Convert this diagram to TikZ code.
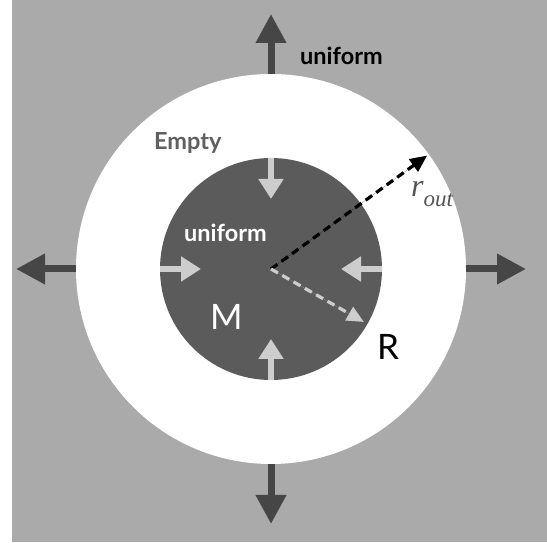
\documentclass[tikz,border=0pt]{standalone}
\usepackage{fontspec}
\setmainfont{Lato}
\newfontfamily\rfont{Liberation Serif}
\usetikzlibrary{arrows.meta,calc}
\definecolor{bggrey}{HTML}{AAAAAA}
\definecolor{coregrey}{HTML}{5B5B5B}
\definecolor{arrowdark}{HTML}{464646}
\definecolor{arrowlight}{HTML}{CDCDCD}
\definecolor{emptygrey}{HTML}{606060}
\definecolor{routgrey}{HTML}{555555}
\begin{document}
\begin{tikzpicture}[
        x=1pt, y=1pt,
        outarrow/.style = {line width=7pt, draw=arrowdark, -{Triangle[length=29pt,width=29pt]}},
        inarrow/.style = {line width=6pt, draw=arrowlight, -{Triangle[length=20pt,width=24pt]}},
        radiusarrow/.style = {line width=3.2pt, dash pattern=on 8pt off 5pt, -{Triangle[length=17pt,width=15pt]}}
    ]
    \tikzset{
        boldtext/.style = {anchor=base west, inner sep=0, font={\fontsize{23.5}{23.5}\selectfont\bfseries}},
        bigtext/.style = {anchor=base west, inner sep=0, font={\fontsize{35}{35}\selectfont}}
    }
    \useasboundingbox (0,0) rectangle (547,543);
    \fill[bggrey] (12,1) rectangle (547,543);
    \coordinate (o) at (271,274);
    \fill[white] (o) circle (195pt);
    \fill[coregrey] (o) circle (111pt);
    \foreach \a in {0,90,180,270}{
        \coordinate (shell\a) at ($(o)+(\a:195)$);
        \coordinate (far\a) at ($(o)+(\a:255)$);
        \draw[outarrow] (shell\a) -- (far\a);
        \coordinate (edge\a) at ($(o)+(\a:111)$);
        \coordinate (inner\a) at ($(o)+(\a:70)$);
        \draw[inarrow] (edge\a) -- (inner\a);
    }
    \coordinate (routend) at ($(o)+(36:193)$);
    \coordinate (rend) at ($(o)+(-29.7:107)$);
    \draw[radiusarrow, draw=black, fill=black] (o) -- (routend);
    \draw[radiusarrow, draw=arrowlight, fill=arrowlight] (o) -- (rend);
    \node[boldtext, text=black] (topuniform) at (300,478) {uniform};
    \node[boldtext, text=emptygrey] (empty) at (154,393) {Empty};
    \node[boldtext, text=white] (coreuniform) at (184,301) {uniform};
    \node[bigtext, text=white] (mass) at (210,213) {M};
    \node[bigtext, text=black] (radius) at (377,183) {R};
    \node[anchor=base west, inner sep=0, text=routgrey] (rout) at (411,346)
        {\rfont\itshape\fontsize{32}{32}\selectfont r\raisebox{-10pt}{\fontsize{23}{23}\selectfont out}};
\end{tikzpicture}
\end{document}
